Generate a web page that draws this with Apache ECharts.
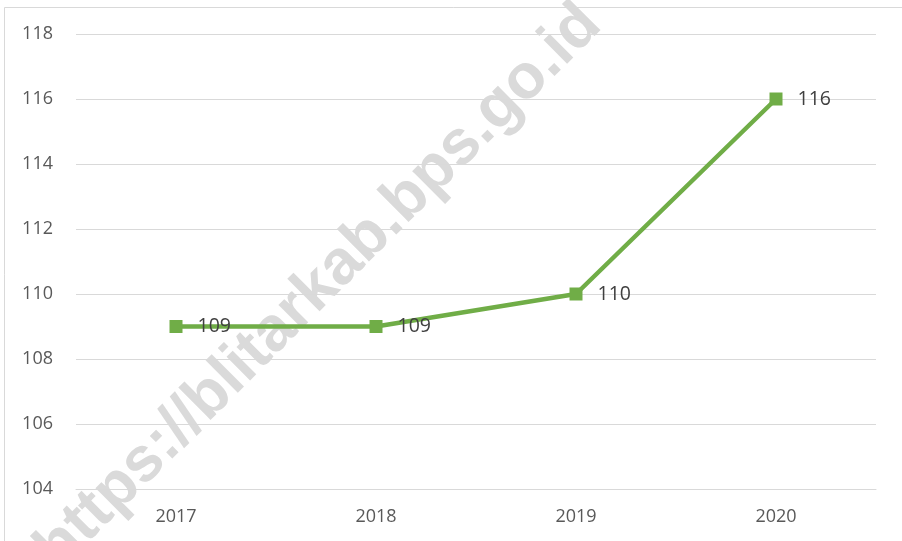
<!DOCTYPE html>
<html>
<head>
<meta charset="utf-8">
<script src="https://cdn.jsdelivr.net/npm/echarts@6/dist/echarts.min.js"></script>
<style>html,body{margin:0;padding:0;background:#fff}#c{width:902px;height:541px}</style>
</head>
<body>
<div id="c"></div>
<script>
var categories = ['2017', '2018', '2019', '2020'];
var values = [109, 109, 110, 116];
var yTicks = { min: 104, max: 118, interval: 2 };
var watermarkText = 'https://blitarkab.bps.go.id';

var chart = echarts.init(document.getElementById('c'), null, { renderer: 'canvas' });
var fontFam = '"Open Sans", "Liberation Sans", sans-serif';
chart.setOption({
  animation: false,
  backgroundColor: '#ffffff',
  grid: { left: 76, right: 26, top: 34, bottom: 52, containLabel: false },
  graphic: [
    {
      type: 'polyline', z: -20, silent: true,
      shape: { points: [[4.5, 541], [4.5, 7.5], [902, 7.5]] },
      style: { stroke: '#d9d9d9', lineWidth: 1, fill: null }
    },
    {
      type: 'text', z: -10, silent: true,
      x: 319, y: 287, rotation: Math.PI / 4,
      style: {
        text: watermarkText,
        font: 'bold 63px "Liberation Sans", Arial, sans-serif',
        fill: '#dadada',
        align: 'center', verticalAlign: 'middle'
      }
    }
  ],
  xAxis: {
    type: 'category',
    data: categories,
    boundaryGap: true,
    axisLine: { show: true, lineStyle: { color: '#d9d9d9', width: 1 } },
    axisTick: { show: false },
    axisLabel: { color: '#595959', fontSize: 18, fontFamily: fontFam, margin: 19 }
  },
  yAxis: {
    type: 'value',
    min: yTicks.min, max: yTicks.max, interval: yTicks.interval,
    axisLine: { show: false },
    axisTick: { show: false },
    axisLabel: { color: '#595959', fontSize: 18, fontFamily: fontFam, margin: 23 },
    splitLine: { show: true, lineStyle: { color: '#d9d9d9', width: 1 } }
  },
  series: [{
    type: 'line',
    data: values,
    symbol: 'rect',
    symbolSize: 13,
    lineStyle: { color: '#70ad47', width: 4.5, cap: 'round', join: 'round' },
    itemStyle: { color: '#70ad47' },
    label: {
      show: true, position: 'right', distance: 15,
      color: '#404040', fontSize: 19.5, fontFamily: fontFam
    }
  }]
});
</script>
</body>
</html>
